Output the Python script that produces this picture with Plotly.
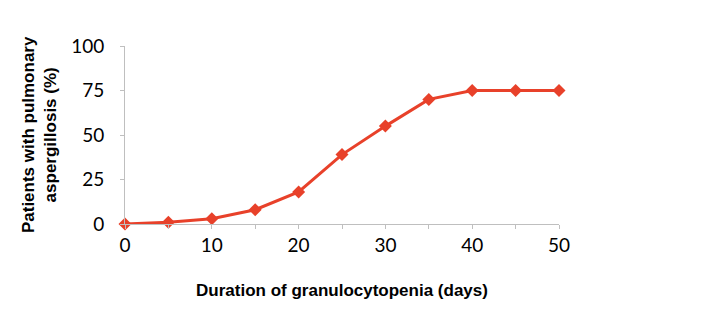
import plotly.graph_objects as go

# Duration of granulocytopenia (days) vs. share of patients with pulmonary aspergillosis
days = [0, 5, 10, 15, 20, 25, 30, 35, 40, 45, 50]
percent_patients = [0, 1, 3, 8, 18, 39, 55, 70, 75, 75, 75]

x_tick_vals = [0, 10, 20, 30, 40, 50]
y_tick_vals = [0, 25, 50, 75, 100]

line_color = "#E8412A"
axis_color = "#BFBFBF"
tick_font = dict(family="Lato, 'Open Sans', sans-serif", size=19, color="#000000")
title_font = dict(family="'Liberation Sans', Arial, sans-serif", size=17, color="#000000")

fig = go.Figure(
    go.Scatter(
        x=days,
        y=percent_patients,
        mode="lines+markers",
        line=dict(color=line_color, width=3),
        marker=dict(symbol="diamond", size=10, color=line_color),
        cliponaxis=False,
        showlegend=False,
    )
)

fig.update_layout(
    width=708,
    height=326,
    margin=dict(l=125, r=149, t=46, b=102),
    paper_bgcolor="white",
    plot_bgcolor="white",
    xaxis=dict(
        range=[0, 50],
        tickvals=x_tick_vals,
        ticks="outside",
        ticklen=4,
        tickcolor=axis_color,
        minor=dict(dtick=5, ticks="outside", ticklen=4, tickcolor=axis_color),
        showline=True,
        linecolor=axis_color,
        linewidth=1,
        showgrid=False,
        zeroline=False,
        tickfont=tick_font,
        title=dict(text="<b>Duration of granulocytopenia (days)</b>", font=title_font, standoff=29),
    ),
    yaxis=dict(
        range=[0, 100],
        tickvals=y_tick_vals,
        ticks="outside",
        ticklen=4,
        tickcolor=axis_color,
        showline=True,
        linecolor=axis_color,
        linewidth=1,
        showgrid=False,
        zeroline=False,
        tickfont=tick_font,
        ticklabelstandoff=12,
    ),
    annotations=[
        dict(
            text="<b>Patients with pulmonary<br>aspergillosis (%)</b>",
            font=title_font,
            xref="paper",
            yref="paper",
            x=-0.198,
            y=0.5,
            textangle=-90,
            showarrow=False,
            xanchor="center",
            yanchor="middle",
        )
    ],
)

fig.write_html("out.html")
